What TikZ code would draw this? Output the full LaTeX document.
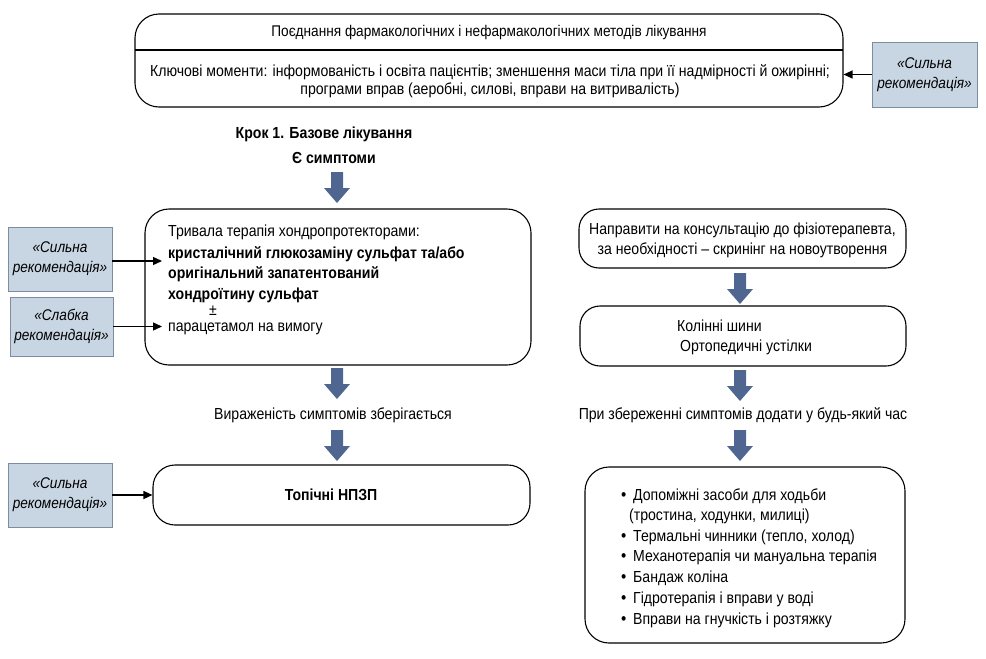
\documentclass[tikz,border=0pt]{standalone}
\usepackage{fontspec}
\setmainfont[FakeStretch=0.88]{Liberation Sans}
\usetikzlibrary{arrows.meta}
\definecolor{recfill}{RGB}{200,213,226}
\definecolor{recdraw}{RGB}{125,140,160}
\definecolor{barrow}{RGB}{79,102,145}
\tikzset{
  x=1pt, y=-1pt,
  rbox/.style={draw=black, line width=1.1, rounded corners=24, inner sep=0pt},
  recbox/.style={draw=recdraw, fill=recfill, line width=0.9, inner sep=0pt, align=center,
    minimum width=104, minimum height=64, font=\fontsize{15.5}{20}\selectfont\itshape},
  txt/.style={inner sep=0pt, font=\fontsize{16}{18}\selectfont},
  btxt/.style={inner sep=0pt, font=\fontsize{16}{18}\selectfont\bfseries},
  arr/.style={line width=1.3, -{Triangle[length=9pt,width=8pt]}},
  downarrow/.pic={\fill[barrow] (-6,0) -- (6,0) -- (6,16) -- (13,16) -- (0,31) -- (-13,16) -- (-6,16) -- cycle;}
}
\begin{document}
\begin{tikzpicture}
\useasboundingbox (0,0) rectangle (986,659);
% top box
\node[rbox, minimum width=708, minimum height=93] (top) at (489,60.5) {};
\draw[line width=1.1] (135,50) -- (843,50);
\node[txt, anchor=base, font=\fontsize{15.5}{18}\selectfont] (comb) at (489,36) {Поєднання фармакологічних і нефармакологічних методів лікування};
\node[txt, align=center] (key) at (490,81) {Ключові моменти: інформованість і освіта пацієнтів; зменшення маси тіла при її надмірності й ожирінні;\\програми вправ (аеробні, силові, вправи на витривалість)};
\node[recbox, minimum width=105, minimum height=65] (r0) at (924.5,74.5) {«Сильна\\рекомендація»};
\draw[arr] (r0.west) -- (r0.west -| top.east);

% left column
\node[btxt, anchor=base] (krok) at (324,138) {Крок 1. Базове лікування};
\node[btxt, anchor=base] (sympt) at (334,163) {Є симптоми};
\pic at (337,172) {downarrow};

\node[rbox, minimum width=386, minimum height=156] (b2) at (338,287) {};
\node[txt, anchor=base west] (l1) at (168,236) {Тривала терапія хондропротекторами:};
\node[btxt, anchor=base west] (l2) at (168,258) {кристалічний глюкозаміну сульфат та/або};
\node[btxt, anchor=base west] (l3) at (168,278) {оригінальний запатентований};
\node[btxt, anchor=base west] (l4) at (168,299) {хондроїтину сульфат};
\node[txt, anchor=base west] (pm) at (209,315) {±};
\node[txt, anchor=base west] (l5) at (168,331) {парацетамол на вимогу};

\node[recbox] (rs1) at (60,259) {«Сильна\\рекомендація»};
\node[recbox, minimum width=103, minimum height=59] (rw) at (61.5,326.5) {«Слабка\\рекомендація»};
\coordinate (a1) at (162,261);
\coordinate (a2) at (162,326.5);
\draw[arr] (rs1.east |- a1) -- (a1);
\draw[arr] (rw.east) -- (a2);

\pic at (337,368) {downarrow};
\node[txt, anchor=base] (expr) at (333,419) {Вираженість симптомів зберігається};
\pic at (337,430) {downarrow};

\node[rbox, rounded corners=22, minimum width=377, minimum height=60] (b4) at (341.5,495) {};
\node[btxt] (nsaid) at (331,495) {Топічні НПЗП};
\node[recbox] (rs2) at (60,495) {«Сильна\\рекомендація»};
\draw[arr] (rs2.east) -- (b4.west);

% right column
\node[rbox, rounded corners=20, minimum width=327, minimum height=59] (ba) at (742.5,238.5) {};
\node[txt, align=center] (phys) at (742.5,240) {Направити на консультацію до фізіотерапевта,\\[2pt]за необхідності – скринінг на новоутворення};
\pic at (740,273) {downarrow};

\node[rbox, rounded corners=20, minimum width=326, minimum height=60] (bb) at (743,336) {};
\node[txt, anchor=base west] (knee) at (677,331) {Колінні шини};
\node[txt, anchor=base west] (orth) at (680,351) {Ортопедичні устілки};
\pic at (740,370) {downarrow};
\node[txt, anchor=base] (add) at (743,419) {При збереженні симптомів додати у будь-який час};
\pic at (740,430) {downarrow};

\node[rbox, minimum width=320, minimum height=176] (bc) at (745,555) {};
\foreach \yy/\t [count=\i] in {500/Допоміжні засоби для ходьби, 541/{Термальні чинники (тепло, холод)}, 561/Механотерапія чи мануальна терапія, 582/Бандаж коліна, 603/Гідротерапія і вправи у воді, 624/Вправи на гнучкість і розтяжку}{
  \node[inner sep=0pt, font=\fontsize{17}{18}\selectfont, anchor=base west] (bl\i) at (621,\yy) {\textbullet};
  \node[txt, anchor=base west] (it\i) at (633,\yy) {\t};
}
\node[txt, anchor=base west] (it1b) at (629,520) {(тростина, ходунки, милиці)};
\end{tikzpicture}
\end{document}
